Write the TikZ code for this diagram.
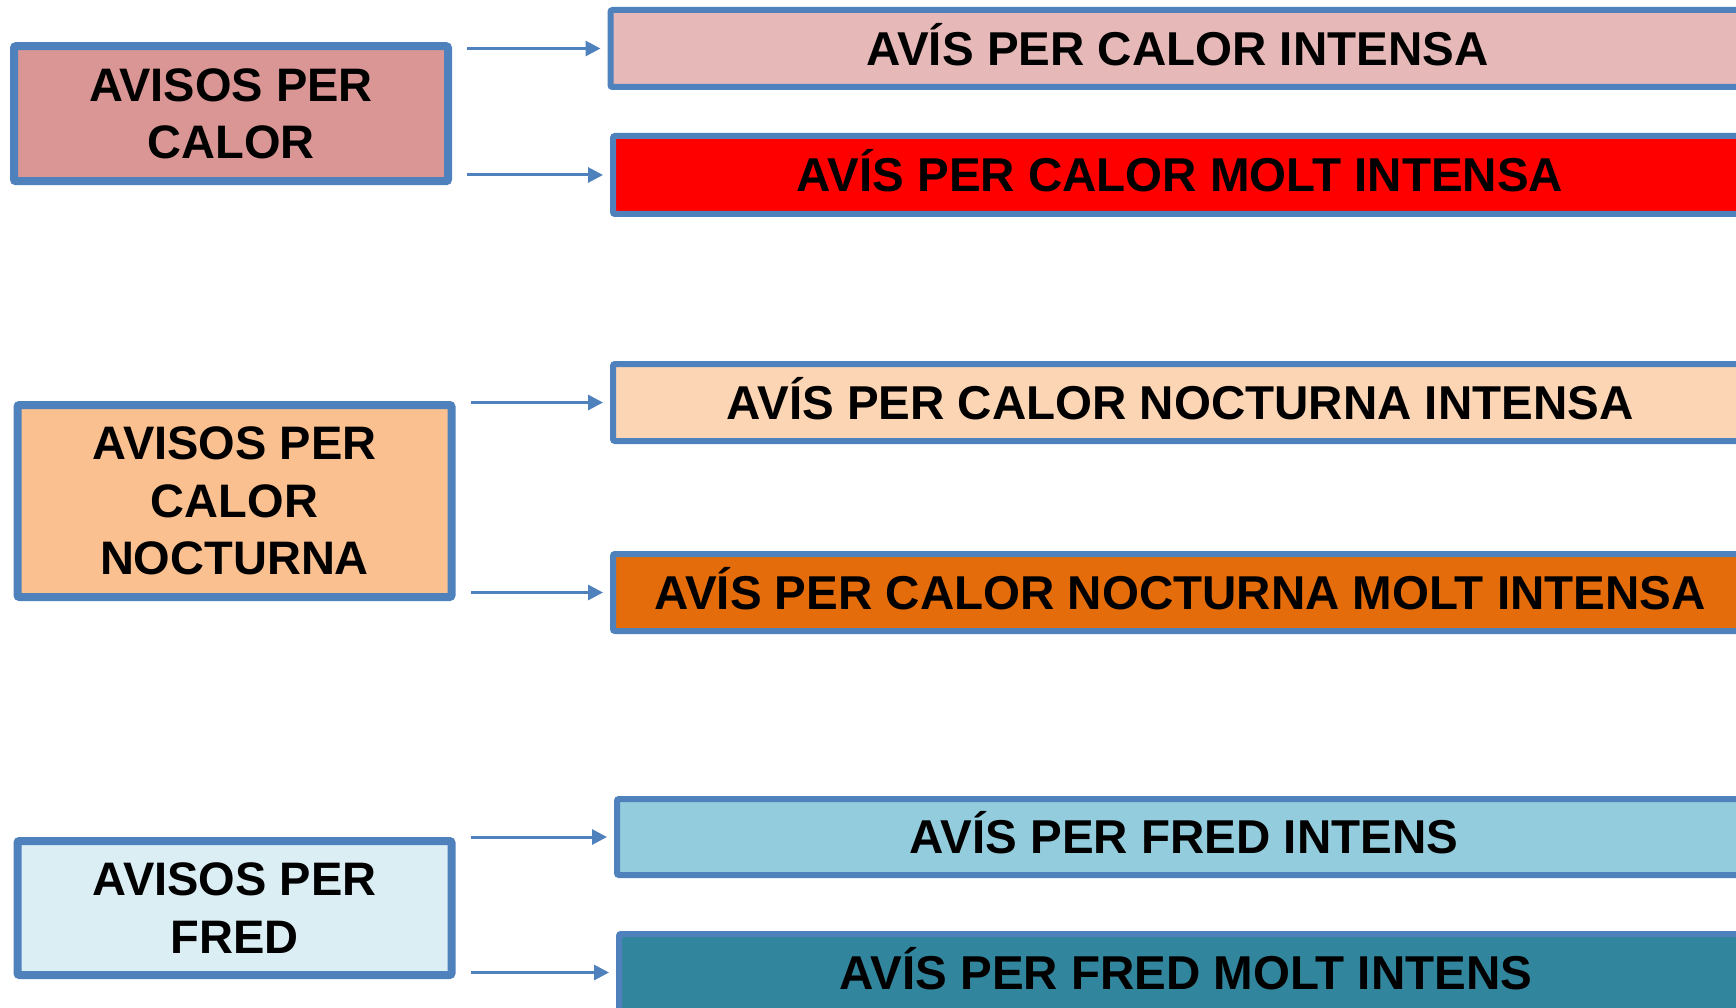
\documentclass[tikz,border=0pt]{standalone}
\usepackage{fontspec}
\setmainfont{Liberation Sans}
\usepackage{tikz}
\usetikzlibrary{arrows.meta,positioning}

\definecolor{vora}{HTML}{4F81BD}
\definecolor{calor}{HTML}{D99694}
\definecolor{calorint}{HTML}{E6B9B8}
\definecolor{calormolt}{HTML}{FF0000}
\definecolor{nit}{HTML}{FAC090}
\definecolor{nitint}{HTML}{FCD5B5}
\definecolor{nitmolt}{HTML}{E46C0A}
\definecolor{fred}{HTML}{DBEEF4}
\definecolor{fredint}{HTML}{93CDDD}
\definecolor{fredmolt}{HTML}{31859C}

\begin{document}
\begin{tikzpicture}[x=1pt,y=-1pt,
  avis/.style={draw=vora, line width=8pt, rounded corners=2pt,
               minimum width=434pt, inner sep=0pt, outer sep=0pt,
               align=center, font=\fontsize{47}{57.5}\selectfont\bfseries},
  nivell/.style={draw=vora, line width=6pt, rounded corners=2pt,
               anchor=west, minimum width=1134pt, minimum height=77pt,
               inner sep=0pt, outer sep=0pt, text height=33.7pt, text depth=0pt,
               font=\fontsize{47.5}{57.5}\selectfont\bfseries},
  fletxa/.style={draw=vora, line width=3pt,
               -{Triangle[length=15pt,width=15pt]},
               shorten <=19pt, shorten >=10pt}]

  \useasboundingbox (0,0) rectangle (1736,1008);
  \clip (0,0) rectangle (1736,1008);
  \fill[white] (0,0) rectangle (1736,1008);

  % grups d'avisos
  \node[avis, fill=calor, minimum height=135pt] (cal) at (231,113.7) {AVISOS PER\\CALOR};
  \node[avis, fill=nit, minimum height=192pt] (calnit) at (234.5,501) {AVISOS PER\\CALOR\\NOCTURNA};
  \node[avis, fill=fred, minimum height=134pt] (fred) at (234.5,908) {AVISOS PER\\FRED};

  % nivells
  \node[nivell, fill=calorint] (calint) at (610.5,48.5) {AV\'IS PER CALOR INTENSA};
  \node[nivell, fill=calormolt, minimum height=78pt] (calmolt) at (613,175) {AV\'IS PER CALOR MOLT INTENSA};
  \node[nivell, fill=nitint] (nitint) at (613,402.5) {AV\'IS PER CALOR NOCTURNA INTENSA};
  \node[nivell, fill=nitmolt] (nitmolt) at (613,592.5) {AV\'IS PER CALOR NOCTURNA MOLT INTENSA};
  \node[nivell, fill=fredint, minimum height=76pt] (fredint) at (617,837) {AV\'IS PER FRED INTENS};
  \node[nivell, fill=fredmolt] (fredmolt) at (619,972.5) {AV\'IS PER FRED MOLT INTENS};

  \foreach \a/\b in {cal/calint, cal/calmolt, calnit/nitint, calnit/nitmolt, fred/fredint, fred/fredmolt}
    \draw[fletxa] (\a.east |- \b.west) -- (\b.west);
\end{tikzpicture}
\end{document}
